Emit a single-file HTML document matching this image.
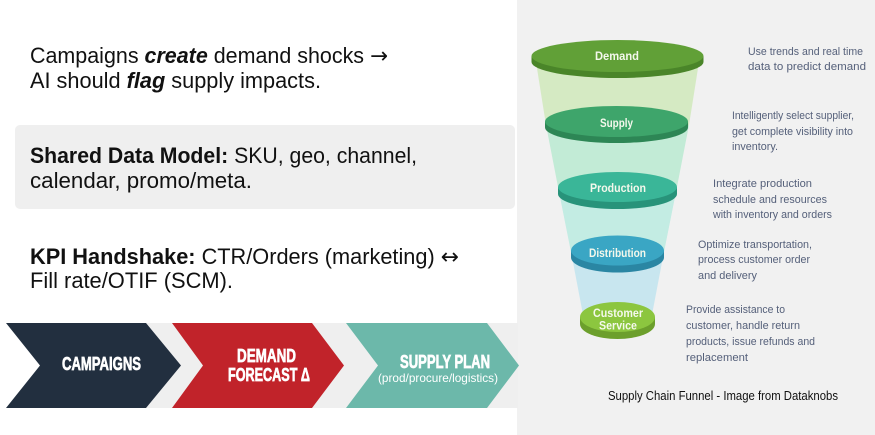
<!DOCTYPE html>
<html><head><meta charset="utf-8"><style>
html,body{margin:0;padding:0;background:#fff;width:875px;height:435px;overflow:hidden}
svg{display:block}
.m{font-family:"Liberation Sans",sans-serif;font-size:22px;fill:#111}
.s{font-family:"Liberation Sans",sans-serif;font-size:11px;fill:#55607a}
.f{font-family:"Liberation Sans",sans-serif;font-size:11.5px;font-weight:bold;fill:#f4f8ec;text-anchor:middle}
.c{font-family:"Liberation Sans Narrow","Liberation Sans",sans-serif;font-weight:bold;fill:#fff;font-size:18px;stroke:#fff;stroke-width:0.7px}
.ar{font-family:"DejaVu Sans",sans-serif;font-weight:normal;font-style:normal}
</style></head><body>
<svg width="875" height="435" viewBox="0 0 875 435" xmlns="http://www.w3.org/2000/svg">
<rect x="0" y="0" width="875" height="435" fill="#fff"/>
<rect x="517" y="0" width="358" height="435" fill="#f1f1f1"/>

<!-- left texts -->
<text class="m" x="30" y="63" textLength="358" lengthAdjust="spacingAndGlyphs">Campaigns <tspan font-weight="bold" font-style="italic">create</tspan> demand shocks <tspan class="ar">→</tspan></text>
<text class="m" x="30" y="88" textLength="291" lengthAdjust="spacingAndGlyphs">AI should <tspan font-weight="bold" font-style="italic">flag</tspan> supply impacts.</text>

<rect x="15" y="125" width="500" height="84" rx="5" fill="#efefef"/>
<text class="m" x="30" y="163" textLength="387" lengthAdjust="spacingAndGlyphs"><tspan font-weight="bold">Shared Data Model:</tspan> SKU, geo, channel,</text>
<text class="m" x="30" y="188" textLength="222" lengthAdjust="spacingAndGlyphs">calendar, promo/meta.</text>

<text class="m" x="30" y="264" textLength="429" lengthAdjust="spacingAndGlyphs"><tspan font-weight="bold">KPI Handshake:</tspan> CTR/Orders (marketing) <tspan class="ar">↔</tspan></text>
<text class="m" x="30" y="288" textLength="203" lengthAdjust="spacingAndGlyphs">Fill rate/OTIF (SCM).</text>

<!-- chevron band -->
<rect x="120" y="323" width="398" height="85" fill="#efefef"/>
<polygon points="6,323 146,323 181,365.5 146,408 6,408 40,365.5" fill="#222f3f"/>
<polygon points="172,323 312,323 344,365.5 312,408 172,408 203,365.5" fill="#c1232a"/>
<polygon points="346,323 487,323 519,365.5 487,408 346,408 378,365.5" fill="#6cb8aa"/>
<text class="c" x="62" y="370" textLength="79" lengthAdjust="spacingAndGlyphs">CAMPAIGNS</text>
<text class="c" x="237" y="362" textLength="59" lengthAdjust="spacingAndGlyphs">DEMAND</text>
<text class="c" x="228" y="381" textLength="82" lengthAdjust="spacingAndGlyphs">FORECAST Δ</text>
<text class="c" x="400" y="368" textLength="90" lengthAdjust="spacingAndGlyphs">SUPPLY PLAN</text>
<text x="378" y="382" textLength="120" lengthAdjust="spacingAndGlyphs" font-family="Liberation Sans, sans-serif" font-size="12" fill="#fff">(prod/procure/logistics)</text>

<!-- funnel body segments -->
<polygon points="536,62 699,62 689,125 546,125" fill="#d5eac3"/>
<polygon points="546,125 689,125 676,192 559,192" fill="#c2ebd6"/>
<polygon points="559,192 676,192 663,257 572,257" fill="#c3ece3"/>
<polygon points="572,257 663,257 651,320 584,320" fill="#c8e6ef"/>

<!-- Demand -->
<ellipse cx="617.5" cy="62" rx="86" ry="16" fill="#4a8529"/>
<rect x="531.5" y="56" width="172" height="6" fill="#4a8529"/>
<ellipse cx="617.5" cy="56" rx="86" ry="16" fill="#61a037"/>
<text class="f" x="617" y="60" textLength="44" lengthAdjust="spacingAndGlyphs">Demand</text>
<!-- Supply -->
<ellipse cx="616.5" cy="127.5" rx="71.5" ry="15.5" fill="#2d8655"/>
<rect x="545" y="121.5" width="143" height="6" fill="#2d8655"/>
<ellipse cx="616.5" cy="121.5" rx="71.5" ry="15.5" fill="#3ea56b"/>
<text class="f" x="616.5" y="127" textLength="33" lengthAdjust="spacingAndGlyphs">Supply</text>
<!-- Production -->
<ellipse cx="617.5" cy="194" rx="59.5" ry="15" fill="#28937a"/>
<rect x="558" y="187" width="119" height="7" fill="#28937a"/>
<ellipse cx="617.5" cy="187" rx="59.5" ry="15" fill="#3ab698"/>
<text class="f" x="618" y="192" textLength="56" lengthAdjust="spacingAndGlyphs">Production</text>
<!-- Distribution -->
<ellipse cx="617.5" cy="257.5" rx="46.5" ry="15" fill="#2a86a3"/>
<rect x="571" y="250.5" width="93" height="7" fill="#2a86a3"/>
<ellipse cx="617.5" cy="250.5" rx="46.5" ry="15" fill="#3aa6c4"/>
<text class="f" x="617.5" y="257" textLength="57" lengthAdjust="spacingAndGlyphs">Distribution</text>
<!-- Customer Service -->
<ellipse cx="617.5" cy="324" rx="37.5" ry="15" fill="#6c9f2c"/>
<rect x="580" y="317" width="75" height="7" fill="#6c9f2c"/>
<ellipse cx="617.5" cy="317" rx="37.5" ry="15" fill="#8cc63f"/>
<text class="f" x="618" y="317" textLength="50" lengthAdjust="spacingAndGlyphs">Customer</text>
<text class="f" x="618" y="329.5" textLength="38" lengthAdjust="spacingAndGlyphs">Service</text>

<!-- descriptions -->
<text class="s" x="748" y="55" textLength="115" lengthAdjust="spacingAndGlyphs">Use trends and real time</text>
<text class="s" x="748" y="70" textLength="118" lengthAdjust="spacingAndGlyphs">data to predict demand</text>
<text class="s" x="732" y="119" textLength="122" lengthAdjust="spacingAndGlyphs">Intelligently select supplier,</text>
<text class="s" x="732" y="135" textLength="121" lengthAdjust="spacingAndGlyphs">get complete visibility into</text>
<text class="s" x="732" y="150" textLength="46" lengthAdjust="spacingAndGlyphs">inventory.</text>
<text class="s" x="713" y="187" textLength="99" lengthAdjust="spacingAndGlyphs">Integrate production</text>
<text class="s" x="713" y="203" textLength="114" lengthAdjust="spacingAndGlyphs">schedule and resources</text>
<text class="s" x="713" y="218" textLength="119" lengthAdjust="spacingAndGlyphs">with inventory and orders</text>
<text class="s" x="698" y="248" textLength="114" lengthAdjust="spacingAndGlyphs">Optimize transportation,</text>
<text class="s" x="698" y="263" textLength="112" lengthAdjust="spacingAndGlyphs">process customer order</text>
<text class="s" x="698" y="279" textLength="59" lengthAdjust="spacingAndGlyphs">and delivery</text>
<text class="s" x="686" y="313" textLength="99" lengthAdjust="spacingAndGlyphs">Provide assistance to</text>
<text class="s" x="686" y="329" textLength="114" lengthAdjust="spacingAndGlyphs">customer, handle return</text>
<text class="s" x="686" y="345" textLength="129" lengthAdjust="spacingAndGlyphs">products, issue refunds and</text>
<text class="s" x="686" y="361" textLength="62" lengthAdjust="spacingAndGlyphs">replacement</text>

<text x="608" y="400" textLength="230" lengthAdjust="spacingAndGlyphs" font-family="Liberation Sans, sans-serif" font-size="12.5" fill="#111">Supply Chain Funnel - Image from Dataknobs</text>
</svg>
</body></html>
